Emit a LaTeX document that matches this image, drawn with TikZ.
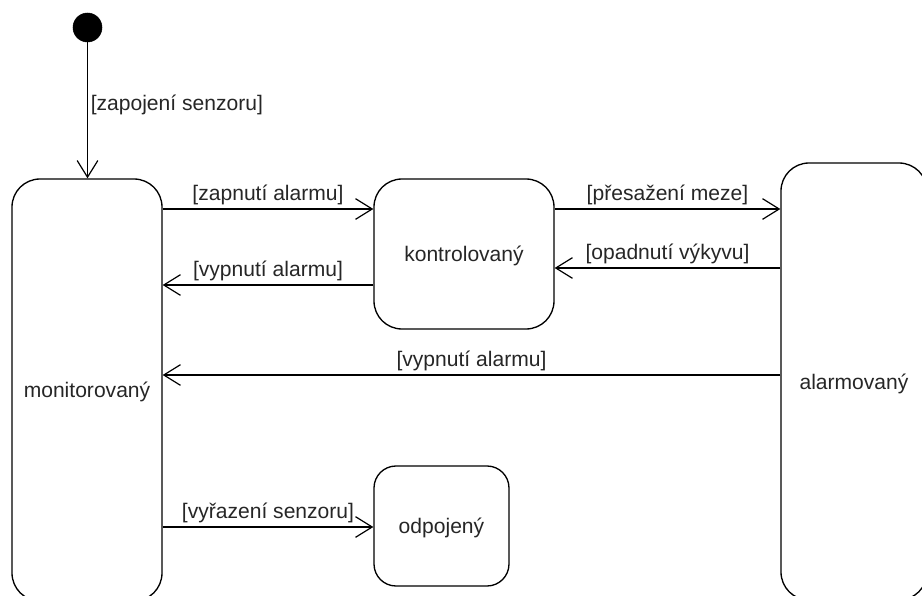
\documentclass[tikz,border=0pt]{standalone}
\usepackage{fontspec}
\setmainfont{Liberation Sans}
\usetikzlibrary{arrows.meta}
\begin{document}
\begin{tikzpicture}[x=0.75pt, y=-0.75pt,
  every node/.style={font=\fontsize{15.8pt}{18pt}\selectfont, text=black!85},
  state/.style={draw=black, line width=1pt, rounded corners=21pt, inner sep=0pt, text depth=0pt},
  initial/.style={circle, fill=black, draw=black, minimum size=21.75pt, inner sep=0pt},
  tr/.style={draw=black, line width=0.9pt, -{Straight Barb[length=12.5pt, width=15.5pt]}},
  guard/.style={midway, above, inner sep=2.5pt}
]
\useasboundingbox (0,0) rectangle (922,596);
\clip (0,0) rectangle (922,596);

% states
\node[initial] (init) at (87.5,27.5) {};
\node[state, minimum width=112.5pt, minimum height=316.5pt] (mon) at (87,390) {monitorovaný};
\node[state, minimum width=135pt, minimum height=112.5pt] (kon) at (464,254) {kontrolovaný};
\node[state, minimum width=109.5pt, minimum height=327.75pt] (ala) at (854,381.5) {alarmovaný};
\node[state, rounded corners=16.5pt, minimum width=101.25pt, minimum height=90pt] (odp) at (441.5,526) {odpojený};

% transitions
\draw[tr] (init) -- node[pos=0.46, right, inner sep=2pt] {[zapojení senzoru]} (mon.north -| init);
\draw[tr] (mon.east |- 0,209) -- node[guard] {[zapnutí alarmu]} (kon.west |- 0,209);
\draw[tr] (kon.west |- 0,285) -- node[guard] {[vypnutí alarmu]} (mon.east |- 0,285);
\draw[tr] (kon.east |- 0,209) -- node[guard] {[přesažení meze]} (ala.west |- 0,209);
\draw[tr] (ala.west |- 0,268) -- node[guard] {[opadnutí výkyvu]} (kon.east |- 0,268);
\draw[tr] (ala.west |- 0,375) -- node[guard] {[vypnutí alarmu]} (mon.east |- 0,375);
\draw[tr] (mon.east |- 0,527) -- node[guard] {[vyřazení senzoru]} (odp.west |- 0,527);
\end{tikzpicture}
\end{document}
